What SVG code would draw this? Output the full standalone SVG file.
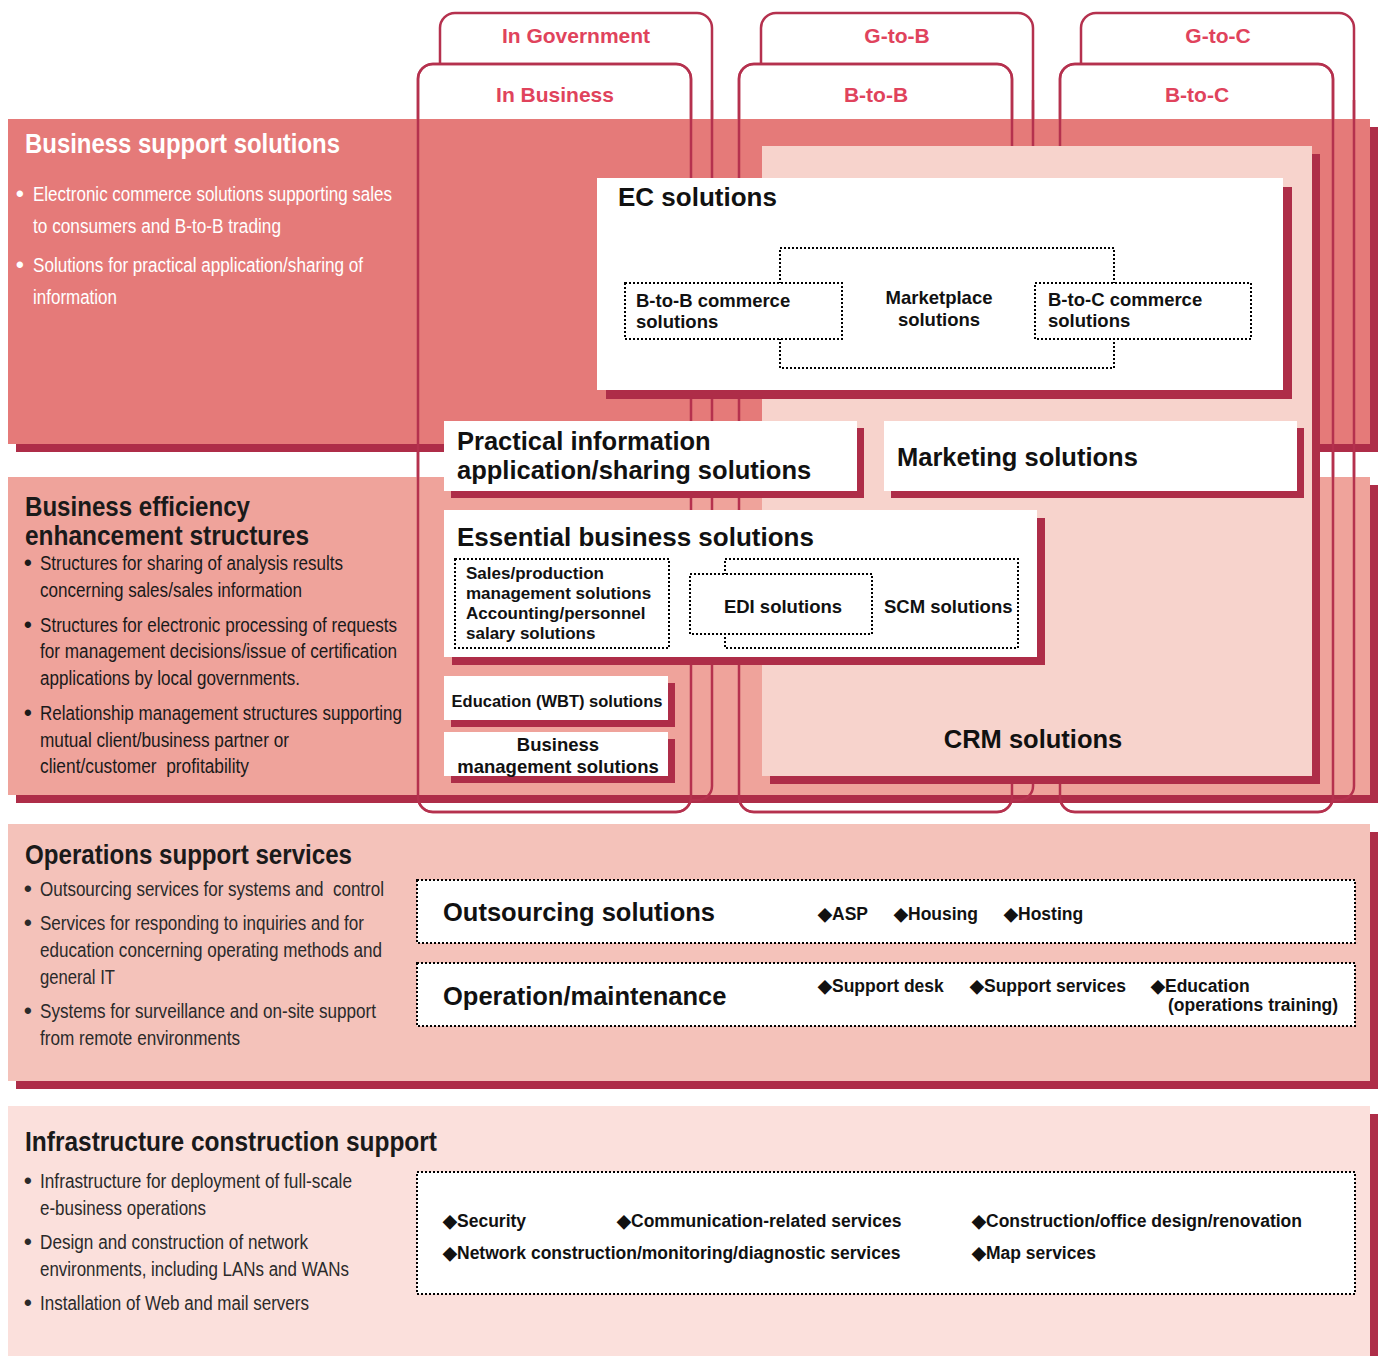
<svg xmlns="http://www.w3.org/2000/svg" width="1381" height="1356" viewBox="0 0 1381 1356">
<style>
.tab{fill:#fff;stroke:#B5314E;stroke-width:2.5}
.tabline{fill:none;stroke:#B5314E;stroke-width:2.5}
.tl{font-family:"Liberation Sans",Arial,sans-serif;font-weight:bold;font-size:21px;fill:#E0435C;text-anchor:middle}
.sh{fill:#AE2D48}
.box{fill:#fff}
.dot{fill:#fff;stroke:#000;stroke-width:2;stroke-dasharray:2 2}
.h{font-family:"Liberation Sans",Arial,sans-serif;font-weight:bold;font-size:25.5px;fill:#111}
.s{font-family:"Liberation Sans",Arial,sans-serif;font-weight:bold;font-size:18.5px;fill:#111}
.s17{font-family:"Liberation Sans",Arial,sans-serif;font-weight:bold;font-size:17px;fill:#111}
.it{font-family:"Liberation Sans",Arial,sans-serif;font-weight:bold;font-size:17.5px;fill:#111}
.mid{text-anchor:middle}
.nt{font-family:"Liberation Sans Narrow","Liberation Sans",Arial,sans-serif;font-weight:bold;font-size:28px}
.nb{font-family:"Liberation Sans Narrow","Liberation Sans",Arial,sans-serif;font-size:19.5px}
.bu{font-family:"Liberation Sans",Arial,sans-serif;font-weight:bold;font-size:22px}
.w{fill:#fff}
.k{fill:#1a1a1a}
.g{fill:#2a2a2a}
.pre{white-space:pre}
</style>

<!-- tab frames (white fill, behind the bands) -->
<g id="tabs-base">
  <rect class="tab" x="440" y="13" width="272" height="787" rx="15"/>
  <rect class="tab" x="761" y="13" width="272" height="787" rx="15"/>
  <rect class="tab" x="1081" y="13" width="273" height="787" rx="15"/>
  <rect class="tab" x="418" y="64" width="273" height="748" rx="15"/>
  <rect class="tab" x="739" y="64" width="273" height="748" rx="15"/>
  <rect class="tab" x="1060" y="64" width="273" height="748" rx="15"/>
</g>

<!-- horizontal bands -->
<g id="band-business-support">
  <rect class="sh" x="16" y="127" width="1362" height="325"/>
  <rect x="8" y="119" width="1362" height="325" fill="#E57A79"/>
</g>
<g id="band-efficiency">
  <rect class="sh" x="16" y="485" width="1362" height="318"/>
  <rect x="8" y="477" width="1362" height="318" fill="#EFA39B"/>
</g>
<g id="band-operations">
  <rect class="sh" x="16" y="832" width="1362" height="257"/>
  <rect x="8" y="824" width="1362" height="257" fill="#F4C2BA"/>
</g>
<g id="band-infrastructure">
  <rect class="sh" x="16" y="1114" width="1362" height="260"/>
  <rect x="8" y="1106" width="1362" height="260" fill="#FBE0DC"/>
</g>

<!-- tab outlines running over the bands -->
<g id="tabs-outline">
  <path class="tabline" d="M712,100 V786 A14,14 0 0 1 698,800 H690"/>
  <path class="tabline" d="M1033,100 V786 A14,14 0 0 1 1019,800 H1011"/>
  <path class="tabline" d="M1354,100 V786 A14,14 0 0 1 1340,800 H1332"/>
  <rect class="tabline" x="418" y="64" width="273" height="748" rx="15"/>
  <rect class="tabline" x="739" y="64" width="273" height="748" rx="15"/>
  <rect class="tabline" x="1060" y="64" width="273" height="748" rx="15"/>
</g>

<!-- tab labels -->
<g id="tab-labels">
  <text class="tl" x="576" y="43">In Government</text>
  <text class="tl" x="897" y="43">G-to-B</text>
  <text class="tl" x="1218" y="43">G-to-C</text>
  <text class="tl" x="555" y="102">In Business</text>
  <text class="tl" x="876" y="102">B-to-B</text>
  <text class="tl" x="1197" y="102">B-to-C</text>
</g>

<!-- CRM panel -->
<g id="crm">
  <rect class="sh" x="770" y="154" width="550" height="630"/>
  <rect x="762" y="146" width="550" height="630" fill="#F7D3CC"/>
  <text class="h mid" x="1033" y="748">CRM solutions</text>
</g>

<!-- EC solutions -->
<g id="ec-solutions">
  <rect class="sh" x="606" y="187" width="686" height="212"/>
  <rect class="box" x="597" y="178" width="686" height="212"/>
  <text class="h" x="618" y="206" style="font-size:26px">EC solutions</text>
  <rect class="dot" x="780" y="248" width="334" height="120"/>
  <rect class="dot" x="625" y="283" width="217" height="56"/>
  <rect class="dot" x="1035" y="283" width="216" height="56"/>
  <text class="s" x="636" y="307">B-to-B commerce</text>
  <text class="s" x="636" y="328">solutions</text>
  <text class="s mid" x="939" y="304">Marketplace</text>
  <text class="s mid" x="939" y="326">solutions</text>
  <text class="s" x="1048" y="306">B-to-C commerce</text>
  <text class="s" x="1048" y="327">solutions</text>
</g>

<!-- practical information -->
<g id="practical-info">
  <rect class="sh" x="451" y="428" width="413" height="70"/>
  <rect class="box" x="444" y="421" width="413" height="70"/>
  <text class="h" x="457" y="450">Practical information</text>
  <text class="h" x="457" y="479">application/sharing solutions</text>
</g>

<!-- marketing -->
<g id="marketing">
  <rect class="sh" x="891" y="428" width="413" height="70"/>
  <rect class="box" x="884" y="421" width="413" height="70"/>
  <text class="h" x="897" y="466">Marketing solutions</text>
</g>

<!-- essential business -->
<g id="essential-business">
  <rect class="sh" x="452" y="518" width="593" height="147"/>
  <rect class="box" x="444" y="510" width="593" height="147"/>
  <text class="h" x="457" y="546" style="font-size:26px">Essential business solutions</text>
  <rect class="dot" x="455" y="559" width="214" height="89"/>
  <text class="s17" x="466" y="579">Sales/production</text>
  <text class="s17" x="466" y="599">management solutions</text>
  <text class="s17" x="466" y="619">Accounting/personnel</text>
  <text class="s17" x="466" y="639">salary solutions</text>
  <rect class="dot" x="725" y="559" width="293" height="89"/>
  <rect class="dot" x="690" y="574" width="182" height="60"/>
  <text class="s mid" x="783" y="613">EDI solutions</text>
  <text class="s" x="884" y="613">SCM solutions</text>
</g>

<!-- education -->
<g id="education-wbt">
  <rect class="sh" x="451" y="683" width="224" height="44"/>
  <rect class="box" x="444" y="676" width="224" height="44"/>
  <text class="s mid" x="557" y="707" style="font-size:16.5px">Education (WBT) solutions</text>
</g>

<!-- business management -->
<g id="business-management">
  <rect class="sh" x="451" y="739" width="224" height="44"/>
  <rect class="box" x="444" y="732" width="224" height="44"/>
  <text class="s mid" x="558" y="751">Business</text>
  <text class="s mid" x="558" y="773">management solutions</text>
</g>

<!-- left column: business support -->
<g id="text-business-support">
  <text class="nt w" x="25" y="153" textLength="315" lengthAdjust="spacingAndGlyphs">Business support solutions</text>
  <text class="bu w" x="16" y="201">•</text>
  <text class="nb w" x="33" y="201" style="font-size:20px" textLength="359" lengthAdjust="spacingAndGlyphs">Electronic commerce solutions supporting sales</text>
  <text class="nb w" x="33" y="233" style="font-size:20px" textLength="248" lengthAdjust="spacingAndGlyphs">to consumers and B-to-B trading</text>
  <text class="bu w" x="16" y="272">•</text>
  <text class="nb w" x="33" y="272" style="font-size:20px" textLength="330" lengthAdjust="spacingAndGlyphs">Solutions for practical application/sharing of</text>
  <text class="nb w" x="33" y="304" style="font-size:20px" textLength="84" lengthAdjust="spacingAndGlyphs">information</text>
</g>

<!-- left column: efficiency -->
<g id="text-efficiency">
  <text class="nt k" x="25" y="516" textLength="225" lengthAdjust="spacingAndGlyphs">Business efficiency</text>
  <text class="nt k" x="25" y="545" textLength="284" lengthAdjust="spacingAndGlyphs">enhancement structures</text>
  <text class="bu k" x="24" y="570">•</text>
  <text class="nb k" x="40" y="570" textLength="303" lengthAdjust="spacingAndGlyphs">Structures for sharing of analysis results</text>
  <text class="nb k" x="40" y="597" textLength="262" lengthAdjust="spacingAndGlyphs">concerning sales/sales information</text>
  <text class="bu k" x="24" y="632">•</text>
  <text class="nb k" x="40" y="632" textLength="357" lengthAdjust="spacingAndGlyphs">Structures for electronic processing of requests</text>
  <text class="nb k" x="40" y="658" textLength="357" lengthAdjust="spacingAndGlyphs">for management decisions/issue of certification</text>
  <text class="nb k" x="40" y="685" textLength="260" lengthAdjust="spacingAndGlyphs">applications by local governments.</text>
  <text class="bu k" x="24" y="720">•</text>
  <text class="nb k" x="40" y="720" textLength="362" lengthAdjust="spacingAndGlyphs">Relationship management structures supporting</text>
  <text class="nb k" x="40" y="747" textLength="249" lengthAdjust="spacingAndGlyphs">mutual client/business partner or</text>
  <text class="nb k pre" x="40" y="773" textLength="209" lengthAdjust="spacingAndGlyphs">client/customer  profitability</text>
</g>

<!-- operations support -->
<g id="text-operations">
  <text class="nt k" x="25" y="864" textLength="327" lengthAdjust="spacingAndGlyphs">Operations support services</text>
  <text class="bu g" x="24" y="896">•</text>
  <text class="nb g pre" x="40" y="896" textLength="344" lengthAdjust="spacingAndGlyphs">Outsourcing services for systems and  control</text>
  <text class="bu g" x="24" y="930">•</text>
  <text class="nb g" x="40" y="930" textLength="324" lengthAdjust="spacingAndGlyphs">Services for responding to inquiries and for</text>
  <text class="nb g" x="40" y="957" textLength="342" lengthAdjust="spacingAndGlyphs">education concerning operating methods and</text>
  <text class="nb g" x="40" y="984" textLength="75" lengthAdjust="spacingAndGlyphs">general IT</text>
  <text class="bu g" x="24" y="1018">•</text>
  <text class="nb g" x="40" y="1018" textLength="336" lengthAdjust="spacingAndGlyphs">Systems for surveillance and on-site support</text>
  <text class="nb g" x="40" y="1045" textLength="200" lengthAdjust="spacingAndGlyphs">from remote environments</text>
</g>

<g id="outsourcing">
  <rect class="dot" x="417" y="880" width="938" height="63"/>
  <text class="h" x="443" y="921">Outsourcing solutions</text>
  <text class="it" x="818" y="920">◆ASP</text>
  <text class="it" x="894" y="920">◆Housing</text>
  <text class="it" x="1004" y="920">◆Hosting</text>
</g>

<g id="operation-maintenance">
  <rect class="dot" x="417" y="963" width="938" height="63"/>
  <text class="h" x="443" y="1005">Operation/maintenance</text>
  <text class="it" x="818" y="992">◆Support desk</text>
  <text class="it" x="970" y="992">◆Support services</text>
  <text class="it" x="1151" y="992">◆Education</text>
  <text class="it" x="1168" y="1011">(operations training)</text>
</g>

<!-- infrastructure -->
<g id="text-infrastructure">
  <text class="nt k" x="25" y="1151" textLength="412" lengthAdjust="spacingAndGlyphs">Infrastructure construction support</text>
  <text class="bu g" x="24" y="1188">•</text>
  <text class="nb g" x="40" y="1188" textLength="312" lengthAdjust="spacingAndGlyphs">Infrastructure for deployment of full-scale</text>
  <text class="nb g" x="40" y="1215" textLength="166" lengthAdjust="spacingAndGlyphs">e-business operations</text>
  <text class="bu g" x="24" y="1249">•</text>
  <text class="nb g" x="40" y="1249" textLength="268" lengthAdjust="spacingAndGlyphs">Design and construction of network</text>
  <text class="nb g" x="40" y="1276" textLength="309" lengthAdjust="spacingAndGlyphs">environments, including LANs and WANs</text>
  <text class="bu g" x="24" y="1310">•</text>
  <text class="nb g" x="40" y="1310" textLength="269" lengthAdjust="spacingAndGlyphs">Installation of Web and mail servers</text>
</g>

<g id="infrastructure-services">
  <rect class="dot" x="417" y="1172" width="938" height="122"/>
  <text class="it" x="443" y="1227">◆Security</text>
  <text class="it" x="617" y="1227">◆Communication-related services</text>
  <text class="it" x="972" y="1227">◆Construction/office design/renovation</text>
  <text class="it" x="443" y="1259">◆Network construction/monitoring/diagnostic services</text>
  <text class="it" x="972" y="1259">◆Map services</text>
</g>
</svg>
